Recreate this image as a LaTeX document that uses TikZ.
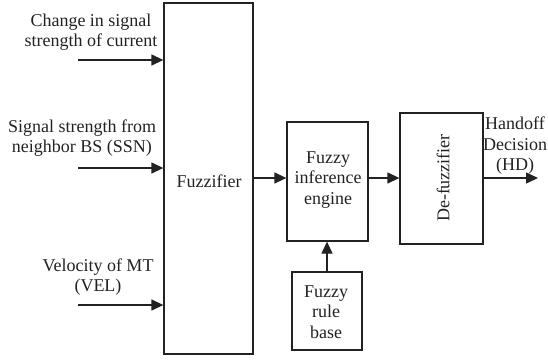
\documentclass[tikz,border=0pt]{standalone}
\usepackage{fontspec}
\setmainfont{Liberation Serif}
\usetikzlibrary{arrows.meta}
\definecolor{ink}{HTML}{222222}
\begin{document}
\begin{tikzpicture}[x=1pt,y=-1pt,
  blk/.style={draw=ink,line width=1.3pt,inner sep=0pt},
  lbl/.style={text=ink,font=\fontsize{18}{20.5}\selectfont,align=center,inner sep=0pt},
  arr/.style={draw=ink,line width=1.3pt,-{Triangle[length=12pt,width=11pt]}}]
\useasboundingbox (0,0) rectangle (548,360);
% boxes
\node[blk,minimum width=89pt,minimum height=351pt] (fz) at (208.5,178.5) {};
\node[lbl] (fzt) at (209,181) {Fuzzifier};
\node[blk,minimum width=81pt,minimum height=119pt] (inf) at (327.5,181.5) {};
\node[lbl] (inft) at (328,180) {Fuzzy\\inference\\engine};
\node[blk,minimum width=83pt,minimum height=131pt] (dfz) at (441.5,178.5) {};
\node[lbl,rotate=90] (dfzt) at (443,178) {De-fuzzifier};
\node[blk,minimum width=70pt,minimum height=78pt] (rb) at (327,311) {};
\node[lbl] (rbt) at (326,312) {Fuzzy\\rule\\base};
% input labels
\node[lbl] (l1) at (91,32) {Change in signal\\strength of current};
\node[lbl] (l2) at (82,138) {Signal strength from\\neighbor BS (SSN)};
\node[lbl] (l3) at (98,277) {Velocity of MT\\(VEL)};
\node[lbl] (l4) at (515,146) {Handoff\\Decision\\(HD)};
% input arrow starts
\coordinate (s1) at (78,60);
\coordinate (s2) at (78,168);
\coordinate (s3) at (78,305);
\coordinate (o) at (538,178);
\draw[arr] (s1) -- (s1 -| fz.west);
\draw[arr] (s2) -- (s2 -| fz.west);
\draw[arr] (s3) -- (s3 -| fz.west);
\draw[arr] (fz.east |- 0,178) -- (inf.west |- 0,178);
\draw[arr] (inf.east |- 0,178) -- (dfz.west |- 0,178);
\draw[arr] (dfz.east |- 0,178) -- (o);
\draw[arr] (rb.north) -- (rb.north |- inf.south);
\end{tikzpicture}
\end{document}
